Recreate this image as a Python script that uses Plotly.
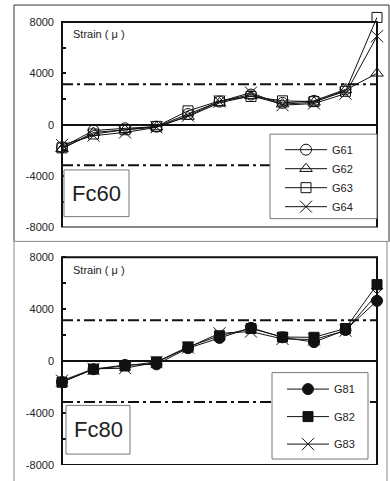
import plotly.graph_objects as go

# ---------------- data ----------------
POS = [0, 1, 2, 3, 4, 5, 6, 7, 8, 9, 10]          # gauge positions along the bar
G61 = [-1750, -450, -280, -150, 830, 1800, 2350, 1700, 1860, 2750, None]
G62 = [-1880, -600, -400, -180, 640, 1700, 2250, 1600, 1750, 2700, 4000]
G63 = [-1800, -720, -390, -130, 1080, 1850, 2200, 1860, 1800, 2600, 8350]
G64 = [-1570, -850, -600, -200, 700, 1800, 2500, 1520, 1650, 2420, 6890]

G81 = [-1600, -620, -290, -245, 1000, 1790, 2570, 1840, 1470, 2400, 4650]
G82 = [-1620, -610, -370, -50, 1100, 1960, 2520, 1860, 1840, 2520, 5900]
G83 = [-1500, -590, -540, -80, 1050, 2150, 2280, 1715, 1670, 2350, 5170]

YIELD_STRAIN = 3150
Y_MIN, Y_MAX = -8000, 8000
Y_HEADROOM = 8450            # axis range top, so the off-scale G63 point stays visible
Y_TICKS = [-8000, -6000, -4000, -2000, 0, 2000, 4000, 6000, 8000]
Y_LABELS = ["-8000", "", "-4000", "", "0", "", "4000", "", "8000"]
PANEL_LABELS = ["Fc60", "Fc80"]
Y_TITLE = "Strain ( μ )"

FONT = "Arial, Liberation Sans, sans-serif"

# ---------------- geometry (paper coords) ----------------
W, H = 390, 481
ML, MR, MT, MB = 62, 13, 10, 13
PW, PH = W - ML - MR, H - MT - MB


def px(x):
    return (x - ML) / PW


def py(y):
    return (H - MB - y) / PH


def domain(bottom_px, top_px):
    # bottom_px / top_px are the pixel rows of Y_MIN / Y_MAX; extend for headroom
    span = bottom_px - top_px
    top_ext = top_px - span * (Y_HEADROOM - Y_MAX) / (Y_MAX - Y_MIN)
    return [py(bottom_px), py(top_ext)]


TOP_DOM = domain(229, 22)
BOT_DOM = domain(468, 259)

fig = go.Figure()

top_series = [
    ("G61", G61, dict(symbol="circle-open", size=11)),
    ("G62", G62, dict(symbol="triangle-up-open", size=11)),
    ("G63", G63, dict(symbol="square-open", size=10)),
    ("G64", G64, dict(symbol="x-thin-open", size=12)),
]
bot_series = [
    ("G81", G81, dict(symbol="circle", size=11)),
    ("G82", G82, dict(symbol="square", size=10)),
    ("G83", G83, dict(symbol="x-thin-open", size=12)),
]

for name, vals, m in top_series:
    fig.add_trace(go.Scatter(
        x=POS, y=vals, name=name, mode="lines+markers",
        line=dict(color="#111", width=1),
        marker=dict(color="#111", line=dict(color="#111", width=1), **m),
        xaxis="x", yaxis="y", legend="legend", legendgroup=name,
        cliponaxis=False, connectgaps=False,
    ))
for name, vals, m in bot_series:
    fig.add_trace(go.Scatter(
        x=POS, y=vals, name=name, mode="lines+markers",
        line=dict(color="#111", width=1),
        marker=dict(color="#111", line=dict(color="#111", width=1), **m),
        xaxis="x2", yaxis="y2", legend="legend2", legendgroup=name,
        cliponaxis=False,
    ))

xbase = dict(range=[POS[0], POS[-1]], showline=False, showticklabels=False, ticks="",
             showgrid=False, zeroline=False)
ybase = dict(range=[Y_MIN, Y_HEADROOM], showline=False,
             tickvals=Y_TICKS, ticktext=Y_LABELS, ticks="inside", ticklen=4,
             tickwidth=1.5, tickcolor="#111", showgrid=False, zeroline=True,
             zerolinecolor="#111", zerolinewidth=2,
             tickfont=dict(family=FONT, size=11, color="#222"), ticklabelstandoff=7)


def zero_pos(dom):
    return dom[0] + (dom[1] - dom[0]) * (0 - Y_MIN) / (Y_HEADROOM - Y_MIN)


zt = dict(range=[POS[0], POS[-1]], showline=False, showticklabels=False, showgrid=False,
          zeroline=False, tickvals=POS[1:-1], ticklen=4, tickwidth=1.5, tickcolor="#111",
          anchor="free")

fig.update_layout(
    width=W, height=H,
    margin=dict(l=ML, r=MR, t=MT, b=MB, pad=0),
    paper_bgcolor="white", plot_bgcolor="white",
    font=dict(family=FONT, color="#222"),
    xaxis=dict(anchor="y", **xbase),
    yaxis=dict(anchor="x", domain=TOP_DOM, **ybase),
    xaxis2=dict(anchor="y2", **xbase),
    yaxis2=dict(anchor="x2", domain=BOT_DOM, **ybase),
    xaxis3=dict(overlaying="x", position=zero_pos(TOP_DOM), ticks="outside", **zt),
    xaxis4=dict(overlaying="x", position=zero_pos(TOP_DOM), ticks="inside", **zt),
    xaxis5=dict(overlaying="x2", position=zero_pos(BOT_DOM), ticks="outside", **zt),
    xaxis6=dict(overlaying="x2", position=zero_pos(BOT_DOM), ticks="inside", **zt),
    legend=dict(x=px(280), y=py(136), xanchor="left", yanchor="top",
                bgcolor="rgba(0,0,0,0)", borderwidth=0, itemwidth=42,
                font=dict(family=FONT, size=11, color="#222"), tracegroupgap=0),
    legend2=dict(x=px(282), y=py(377), xanchor="left", yanchor="top",
                 bgcolor="rgba(0,0,0,0)", borderwidth=0, itemwidth=42,
                 font=dict(family=FONT, size=11, color="#222"), tracegroupgap=8.5),
    showlegend=True,
)

shapes = []
# outer panel frames
shapes.append(dict(type="rect", xref="paper", yref="paper", x0=px(14), x1=px(387),
                   y0=py(485), y1=py(243), line=dict(color="#888", width=1), layer="below"))
shapes.append(dict(type="rect", xref="paper", yref="paper", x0=px(14), x1=px(389),
                   y0=py(243), y1=py(5), line=dict(color="#333", width=1), layer="below"))
shapes.append(dict(type="line", xref="paper", yref="paper", x0=px(14), x1=px(389),
                   y0=py(243), y1=py(243), line=dict(color="#999", width=1), layer="below"))
for xa, ya in (("x", "y"), ("x2", "y2")):
    # yield strain dash-dot lines
    for s in (YIELD_STRAIN, -YIELD_STRAIN):
        shapes.append(dict(type="line", xref=f"{xa} domain", yref=ya, x0=0, x1=1, y0=s, y1=s,
                           line=dict(color="#111", width=2, dash="11px,4px,3px,4px"),
                           layer="above"))
    # plot frame
    shapes.append(dict(type="rect", xref=f"{xa} domain", yref=ya, x0=0, x1=1,
                       y0=Y_MIN, y1=Y_MAX, line=dict(color="#111", width=2), layer="above"))
# legend boxes
shapes.append(dict(type="rect", xref="paper", yref="paper", x0=px(270), x1=px(377),
                   y0=py(220), y1=py(135), fillcolor="white",
                   line=dict(color="#777", width=1), layer="above"))
shapes.append(dict(type="rect", xref="paper", yref="paper", x0=px(272), x1=px(368),
                   y0=py(462), y1=py(375), fillcolor="white",
                   line=dict(color="#777", width=1), layer="above"))
# panel label boxes
shapes.append(dict(type="rect", xref="paper", yref="paper", x0=px(64), x1=px(129),
                   y0=py(218), y1=py(171), fillcolor="white",
                   line=dict(color="#777", width=1), layer="above"))
shapes.append(dict(type="rect", xref="paper", yref="paper", x0=px(66), x1=px(130),
                   y0=py(457), y1=py(408), fillcolor="white",
                   line=dict(color="#777", width=1), layer="above"))
fig.update_layout(shapes=shapes)

annotations = [
    dict(text=PANEL_LABELS[0], x=px(96.5), y=py(194.5), xref="paper", yref="paper",
         showarrow=False, xanchor="center", yanchor="middle",
         font=dict(family=FONT, size=22, color="#222")),
    dict(text=PANEL_LABELS[1], x=px(98), y=py(432.5), xref="paper", yref="paper",
         showarrow=False, xanchor="center", yanchor="middle",
         font=dict(family=FONT, size=22, color="#222")),
    dict(text=Y_TITLE, x=px(71), y=py(34), xref="paper", yref="paper",
         showarrow=False, xanchor="left", yanchor="middle",
         font=dict(family=FONT, size=11, color="#222")),
    dict(text=Y_TITLE, x=px(71), y=py(272), xref="paper", yref="paper",
         showarrow=False, xanchor="left", yanchor="middle",
         font=dict(family=FONT, size=11, color="#222")),
]
fig.update_layout(annotations=annotations)

fig.write_html("out.html")
